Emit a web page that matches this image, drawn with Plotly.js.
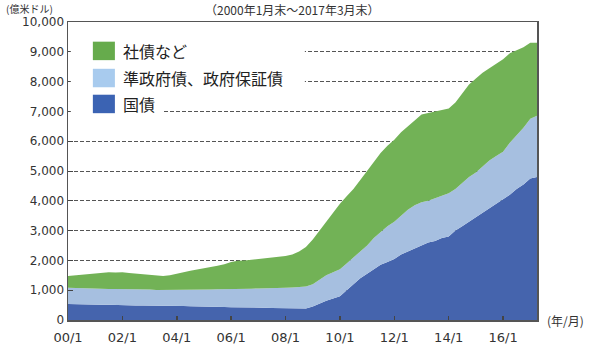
<!DOCTYPE html>
<html>
<head>
<meta charset="utf-8">
<script src="https://cdn.plot.ly/plotly-3.0.1.min.js"></script>
<style>html,body{margin:0;padding:0;background:#fff;}#chart{width:598px;height:345px;}</style>
</head>
<body>
<div id="chart"></div>
<script>
// Quarter-start dates, 2000/1 .. 2017/4
const dates = [
 '2000-01-01','2000-04-01','2000-07-01','2000-10-01',
 '2001-01-01','2001-04-01','2001-07-01','2001-10-01',
 '2002-01-01','2002-04-01','2002-07-01','2002-10-01',
 '2003-01-01','2003-04-01','2003-07-01','2003-10-01',
 '2004-01-01','2004-04-01','2004-07-01','2004-10-01',
 '2005-01-01','2005-04-01','2005-07-01','2005-10-01',
 '2006-01-01','2006-04-01','2006-07-01','2006-10-01',
 '2007-01-01','2007-04-01','2007-07-01','2007-10-01',
 '2008-01-01','2008-04-01','2008-07-01','2008-10-01',
 '2009-01-01','2009-04-01','2009-07-01','2009-10-01',
 '2010-01-01','2010-04-01','2010-07-01','2010-10-01',
 '2011-01-01','2011-04-01','2011-07-01','2011-10-01',
 '2012-01-01','2012-04-01','2012-07-01','2012-10-01',
 '2013-01-01','2013-04-01','2013-07-01','2013-10-01',
 '2014-01-01','2014-04-01','2014-07-01','2014-10-01',
 '2015-01-01','2015-04-01','2015-07-01','2015-10-01',
 '2016-01-01','2016-04-01','2016-07-01','2016-10-01',
 '2017-01-01','2017-04-01'
];
// 国債 (bottom)
const govBonds = [
 540,530,530,520, 520,510,510,500, 500,500,490,490, 490,480,480,470,
 470,470,460,460, 450,450,440,440, 430,430,420,420, 410,410,400,400,
 390,380,380,390, 450,550,650,720, 800,1000,1200,1400, 1550,1700,1850,1950,
 2050,2200,2300,2400, 2500,2600,2650,2750, 2800,3000,3150,3300,
 3450,3600,3750,3900, 4050,4200,4400,4550, 4750,4800
];
// 準政府債、政府保証債 (middle)
const agencyBonds = [
 540,540,530,540, 530,540,530,540, 540,530,540,530, 530,530,530,530,
 530,530,550,550, 570,570,590,590, 610,610,630,630, 650,650,670,670,
 690,710,720,730, 750,800,850,880, 900,900,900,900, 950,1050,1100,1200,
 1250,1300,1400,1450, 1450,1400,1430,1400, 1450,1400,1450,1500,
 1500,1550,1600,1600, 1600,1750,1800,1900, 2000,2050
];
// 社債など (top)
const corpBonds = [
 400,430,460,490, 510,530,560,550, 560,550,530,520, 500,490,470,500,
 560,600,640,690, 720,760,790,840, 910,950,950,970, 990,1020,1030,1050,
 1070,1110,1200,1330, 1500,1650,1800,2000, 2200,2250,2300,2400, 2500,2550,2650,2700,
 2750,2800,2800,2850, 2950,2950,2920,2900, 2850,2900,3000,3100,
 3150,3150,3100,3100, 3100,3000,2850,2700, 2550,2450
];
const seriesNames = ['国債', '準政府債、政府保証債', '社債など'];
const fillColors = ['#4564ad', '#a6bfe0', '#72b256'];
const legendColors = ['#3b63b3', '#a8cbee', '#66ab4c'];
const xTickVals = ['2000-01-01','2002-01-01','2004-01-01','2006-01-01','2008-01-01','2010-01-01','2012-01-01','2014-01-01','2016-01-01'];
const xTickText = ['00/1','02/1','04/1','06/1','08/1','10/1','12/1','14/1','16/1'];

const seriesValues = [govBonds, agencyBonds, corpBonds];
const traces = seriesValues.map((vals, i) => ({
  x: dates, y: vals, name: seriesNames[i], type: 'scatter', mode: 'lines',
  stackgroup: 'one', line: {width: 0, color: fillColors[i]}, fillcolor: fillColors[i],
  showlegend: false, hoverinfo: 'skip'
}));

// Manual legend (white row boxes cover the grid, as in the original)
const rowBoxes = [
  {x1: 0.505, y0: 0.866, y1: 0.940},
  {x1: 0.505, y0: 0.765, y1: 0.839},
  {x1: 0.203, y0: 0.675, y1: 0.745}
];
const rowCenters = [0.903, 0.812, 0.725]; // 社債, 準政府, 国債
const legendOrder = [2, 1, 0];
const shapes = [];
const annotations = [];
legendOrder.forEach((si, r) => {
  shapes.push({type: 'rect', xref: 'paper', yref: 'paper', x0: 0.006, x1: rowBoxes[r].x1,
    y0: rowBoxes[r].y0, y1: rowBoxes[r].y1, fillcolor: '#ffffff', line: {width: 0}, layer: 'above'});
  shapes.push({type: 'rect', xref: 'paper', yref: 'paper', x0: 0.053, x1: 0.100,
    y0: rowCenters[r] - 0.031, y1: rowCenters[r] + 0.031, fillcolor: legendColors[si], line: {width: 0}, layer: 'above'});
  annotations.push({xref: 'paper', yref: 'paper', x: 0.113, y: rowCenters[r], xanchor: 'left', yanchor: 'middle',
    text: seriesNames[si], showarrow: false, font: {family: 'Noto Sans CJK JP', size: 16, color: '#222'}});
});
annotations.push({xref: 'paper', yref: 'paper', x: 1, y: 0, xanchor: 'left', yanchor: 'middle', xshift: 8,
  text: '(年/月)', showarrow: false, font: {family: 'Noto Sans CJK JP', size: 12, color: '#333'}});
annotations.push({xref: 'paper', yref: 'paper', x: 0, y: 1, xanchor: 'left', yanchor: 'top', xshift: -64, yshift: 23,
  text: '(億米ドル)', showarrow: false, font: {family: 'Noto Sans CJK JP', size: 10, color: '#333'}});
annotations.push({xref: 'paper', yref: 'paper', x: 0.5, y: 1, xanchor: 'center', yanchor: 'top', xshift: -10, yshift: 23,
  text: '（2000年1月末～2017年3月末）', showarrow: false, font: {family: 'Noto Sans CJK JP', size: 12, color: '#333'}});

const layout = {
  width: 598, height: 345,
  margin: {l: 68, r: 61, t: 22, b: 25, pad: 0},
  paper_bgcolor: '#ffffff', plot_bgcolor: '#ffffff',
  showlegend: false,
  xaxis: {
    type: 'date', range: ['2000-01-01', '2017-04-01'],
    tickvals: xTickVals, ticktext: xTickText,
    ticks: 'inside', ticklen: 4, tickcolor: '#444', tickwidth: 1.5,
    ticklabelstandoff: 5,
    showgrid: false, zeroline: false,
    showline: true, mirror: true, linecolor: '#555', linewidth: 1.5,
    tickfont: {family: 'DejaVu Sans', size: 13, color: '#333'}
  },
  yaxis: {
    range: [0, 10000], dtick: 1000, tick0: 0, tickformat: ',d',
    ticks: 'inside', ticklen: 5, tickcolor: '#444', tickwidth: 1,
    showgrid: true, gridcolor: '#555', gridwidth: 1, griddash: '4px,2px',
    zeroline: false, showline: true, mirror: true, linecolor: '#555', linewidth: 1.5,
    tickfont: {family: 'DejaVu Sans', size: 12, color: '#333'}
  },
  shapes: shapes,
  annotations: annotations
};
Plotly.newPlot('chart', traces, layout, {displayModeBar: false, staticPlot: true});
</script>
</body>
</html>
